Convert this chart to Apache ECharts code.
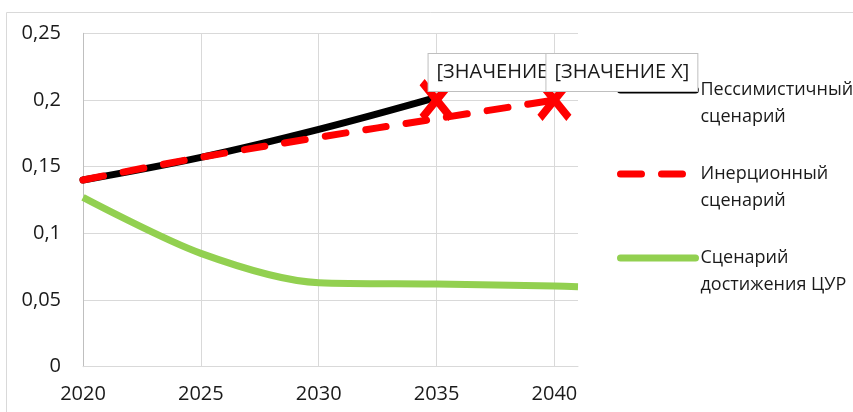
<!DOCTYPE html>
<html><head><meta charset="utf-8">
<script src="https://cdn.jsdelivr.net/npm/echarts@6/dist/echarts.min.js"></script>
<style>html,body{margin:0;padding:0;background:#fff}#c{width:853px;height:412px}</style>
</head><body><div id="c"></div>
<script>
// ---- data ----
const xTicks = [2020, 2025, 2030, 2035, 2040];
const yTickLabels = ['0', '0,05', '0,1', '0,15', '0,2', '0,25'];
const pessimisticYears = [2020, 2025, 2030, 2035];
const pessimisticValues = [0.14, 0.157, 0.178, 0.202];
const inertialYears = [2020, 2025, 2030, 2035, 2040];
const inertialValues = [0.14, 0.157, 0.172, 0.186, 0.2];
const sdgYears = [2020, 2025, 2030, 2035, 2040, 2041];
const sdgValues = [0.127, 0.085, 0.063, 0.062, 0.0605, 0.060];
const markerYears = [2035, 2040];
const markerValues = [0.2, 0.2];
const markerLabels = ['[ЗНАЧЕНИЕ X]', '[ЗНАЧЕНИЕ X]'];
const seriesNames = ['Пессимистичный\nсценарий', 'Инерционный\nсценарий', 'Сценарий\nдостижения ЦУР'];

const zip = (xs, ys) => xs.map((x, i) => [x, ys[i]]);
const FONT = 'Open Sans';
const xPath = 'path://M1.5,0L5,3.5L8.5,0L10,1.5L6.5,5L10,8.5L8.5,10L5,6.5L1.5,10L0,8.5L3.5,5L0,1.5Z';

const chart = echarts.init(document.getElementById('c'), null, {renderer: 'canvas'});
chart.setOption({
  animation: false,
  textStyle: {fontFamily: FONT},
  graphic: [{type: 'rect', shape: {x: 6.5, y: 12.5, width: 900, height: 500}, style: {fill: 'none', stroke: '#d9d9d9', lineWidth: 1}, z: -10}],
  grid: {left: 83, right: 275, top: 33.3, bottom: 45.3},
  legend: {
    orient: 'vertical', left: 617, top: 49.5, padding: 0, itemGap: 3,
    itemWidth: 75, itemHeight: 8,
    data: seriesNames,
    formatter: (n) => ' \n' + n,
    itemStyle: {opacity: 0},
    lineStyle: {width: 7, cap: 'round'},
    textStyle: {fontFamily: FONT, fontSize: 18, color: '#1a1a1a', lineHeight: 27}
  },
  xAxis: {
    type: 'value', min: 2020, max: 2041, interval: 5,
    axisLine: {show: true, lineStyle: {color: '#d9d9d9', width: 1}},
    axisTick: {show: false, customValues: xTicks},
    axisLabel: {customValues: xTicks, fontFamily: FONT, fontSize: 20, color: '#1a1a1a', margin: 18,
      formatter: (v) => String(v)},
    splitLine: {show: true, lineStyle: {color: '#d9d9d9', width: 1}}
  },
  yAxis: {
    type: 'value', min: 0, max: 0.25, interval: 0.05,
    axisLine: {show: true, lineStyle: {color: '#bfbfbf', width: 1}},
    axisTick: {show: false},
    axisLabel: {fontFamily: FONT, fontSize: 20, color: '#1a1a1a', margin: 22,
      formatter: (v) => yTickLabels[Math.round(v / 0.05)]},
    splitLine: {show: true, lineStyle: {color: '#d9d9d9', width: 1}}
  },
  series: [
    {name: seriesNames[0], type: 'line', data: zip(pessimisticYears, pessimisticValues), smooth: 0.4,
      symbol: 'none', lineStyle: {color: '#000', width: 7, cap: 'round'}, itemStyle: {color: '#000'}},
    {name: seriesNames[1], type: 'line', data: zip(inertialYears, inertialValues), smooth: 0.4,
      symbol: 'none', lineStyle: {color: '#ff0000', width: 7, type: [21, 20], cap: 'round'}, itemStyle: {color: '#ff0000'}},
    {name: seriesNames[2], type: 'line', data: zip(sdgYears, sdgValues), smooth: 0.3,
      symbol: 'none', lineStyle: {color: '#92d050', width: 7, cap: 'butt'}, itemStyle: {color: '#92d050'}},
    {name: 'markers', type: 'scatter', data: zip(markerYears, markerValues),
      symbol: xPath, symbolSize: [34, 42], itemStyle: {color: '#ff0000', opacity: 1},
      label: {show: true, formatter: (p) => markerLabels[p.dataIndex], position: [9, -25],
        align: 'left', verticalAlign: 'top', fontFamily: FONT, fontSize: 20, lineHeight: 25, color: '#1a1a1a',
        backgroundColor: '#fff', borderColor: '#bfbfbf', borderWidth: 1, padding: [6, 8, 6, 8]},
      z: 5}
  ]
});
</script></body></html>
